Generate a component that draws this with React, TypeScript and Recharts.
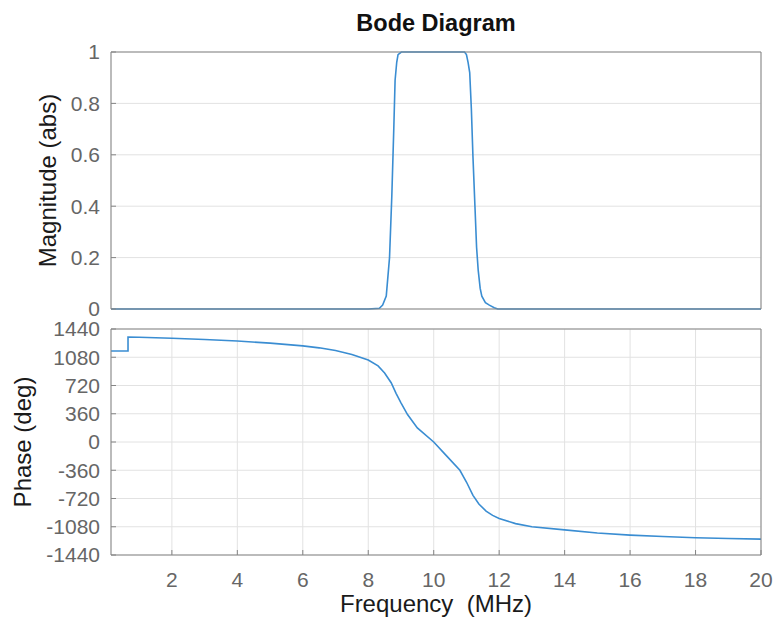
import React from "react";
import { CartesianGrid, Line, LineChart, XAxis, YAxis } from "recharts";

// frequency axis (MHz)
const freqDomain = [0.14, 20];
const freqTicks = [2, 4, 6, 8, 10, 12, 14, 16, 18, 20];

// magnitude (abs)
const magFreq = [
  0.14, 8.0, 8.34, 8.44, 8.55, 8.65, 8.72, 8.78, 8.82, 8.87, 8.91, 9.01, 10.94, 11.0, 11.05,
  11.1, 11.15, 11.2, 11.26, 11.31, 11.36, 11.42, 11.47, 11.58, 11.7, 11.85, 11.96, 20,
];
const magValue = [
  0, 0, 0.003, 0.015, 0.05, 0.2, 0.44, 0.7, 0.89, 0.96, 0.99, 1, 1, 0.99, 0.96,
  0.92, 0.78, 0.59, 0.4, 0.24, 0.15, 0.08, 0.05, 0.025, 0.015, 0.005, 0, 0,
];
const magTicks = [0, 0.2, 0.4, 0.6, 0.8, 1];

// phase (deg)
const phaseFreq = [
  0.14, 0.66, 0.66, 1, 2, 3, 4, 5, 6, 6.5, 7, 7.5, 8, 8.3, 8.5, 8.7, 8.85, 9.0, 9.2, 9.5,
  10, 10.4, 10.8, 11.0, 11.2, 11.38, 11.6, 11.8, 12, 12.5, 13, 14, 15, 16, 17, 18, 19, 20,
];
const phaseValue = [
  1160, 1160, 1337, 1334, 1322, 1306, 1287, 1260, 1225, 1200, 1165, 1115, 1045, 970, 880,
  755, 620, 500, 350, 180, 0, -180, -360, -510, -680, -790, -880, -935, -975, -1040, -1080,
  -1120, -1160, -1187, -1205, -1220, -1230, -1238,
];
const phaseTicks = [-1440, -1080, -720, -360, 0, 360, 720, 1080, 1440];

const magData = magFreq.map((f, i) => ({ f, v: magValue[i] }));
const phaseData = phaseFreq.map((f, i) => ({ f, v: phaseValue[i] }));

const font = "'Liberation Sans', Arial, Helvetica, sans-serif";
const axisColor = "#858585";
const gridColor = "#e2e2e2";
const lineColor = "#3a8dd2";
const tickStyle = { fontSize: 21, fill: "#666", fontFamily: font };
const labelStyle = { fontSize: 24, fill: "#1a1a1a", fontFamily: font };

export default function App() {
  return (
    <div
      style={{
        position: "absolute",
        left: 0,
        top: 0,
        width: 773,
        height: 619,
        background: "#fff",
        fontFamily: font,
      }}
    >
      <div
        style={{
          position: "absolute",
          left: 111,
          top: 11,
          width: 650,
          lineHeight: "24px",
          textAlign: "center",
          fontWeight: "bold",
          fontSize: 23.5,
          color: "#111",
        }}
      >
        Bode Diagram
      </div>

      <div style={{ position: "absolute", left: 0, top: 0 }}>
        <LineChart width={773} height={320} data={magData} margin={{ top: 51, right: 11, left: 0, bottom: 10 }}>
          <CartesianGrid stroke={gridColor} />
          <XAxis
            dataKey="f"
            type="number"
            domain={freqDomain}
            ticks={freqTicks}
            allowDataOverflow
            height={1}
            tick={false}
            tickSize={-5}
            stroke={axisColor}
          />
          <XAxis
            xAxisId="top"
            orientation="top"
            type="number"
            domain={freqDomain}
            ticks={freqTicks}
            allowDataOverflow
            height={1}
            tick={false}
            tickSize={-5}
            stroke={axisColor}
          />
          <YAxis
            type="number"
            domain={[0, 1]}
            ticks={magTicks}
            interval={0}
            width={111}
            tickSize={-5}
            tickMargin={16}
            tick={tickStyle}
            stroke={axisColor}
            label={{ value: "Magnitude (abs)", angle: -90, position: "center", dx: -8, style: labelStyle }}
          />
          <YAxis
            yAxisId="right"
            orientation="right"
            type="number"
            domain={[0, 1]}
            ticks={magTicks}
            width={1}
            tick={false}
            tickSize={-5}
            stroke={axisColor}
          />
          <Line
            dataKey="v"
            type="linear"
            stroke={lineColor}
            strokeWidth={1.6}
            dot={false}
            isAnimationActive={false}
          />
        </LineChart>
      </div>

      <div style={{ position: "absolute", left: 0, top: 312 }}>
        <LineChart width={773} height={307} data={phaseData} margin={{ top: 16, right: 11, left: 0, bottom: 0 }}>
          <CartesianGrid stroke={gridColor} />
          <XAxis
            dataKey="f"
            type="number"
            domain={freqDomain}
            ticks={freqTicks}
            interval={0}
            allowDataOverflow
            height={64}
            tickSize={-5}
            tickMargin={22}
            tick={tickStyle}
            stroke={axisColor}
            label={{ value: "Frequency\u00a0 (MHz)", position: "center", dy: 16, style: labelStyle }}
          />
          <XAxis
            xAxisId="top"
            orientation="top"
            type="number"
            domain={freqDomain}
            ticks={freqTicks}
            allowDataOverflow
            height={1}
            tick={false}
            tickSize={-5}
            stroke={axisColor}
          />
          <YAxis
            type="number"
            domain={[-1440, 1440]}
            ticks={phaseTicks}
            interval={0}
            width={111}
            tickSize={-5}
            tickMargin={16}
            tick={tickStyle}
            stroke={axisColor}
            label={{ value: "Phase (deg)", angle: -90, position: "center", dx: -33, style: labelStyle }}
          />
          <YAxis
            yAxisId="right"
            orientation="right"
            type="number"
            domain={[-1440, 1440]}
            ticks={phaseTicks}
            width={1}
            tick={false}
            tickSize={-5}
            stroke={axisColor}
          />
          <Line
            dataKey="v"
            type="linear"
            stroke={lineColor}
            strokeWidth={1.6}
            dot={false}
            isAnimationActive={false}
          />
        </LineChart>
      </div>
    </div>
  );
}
